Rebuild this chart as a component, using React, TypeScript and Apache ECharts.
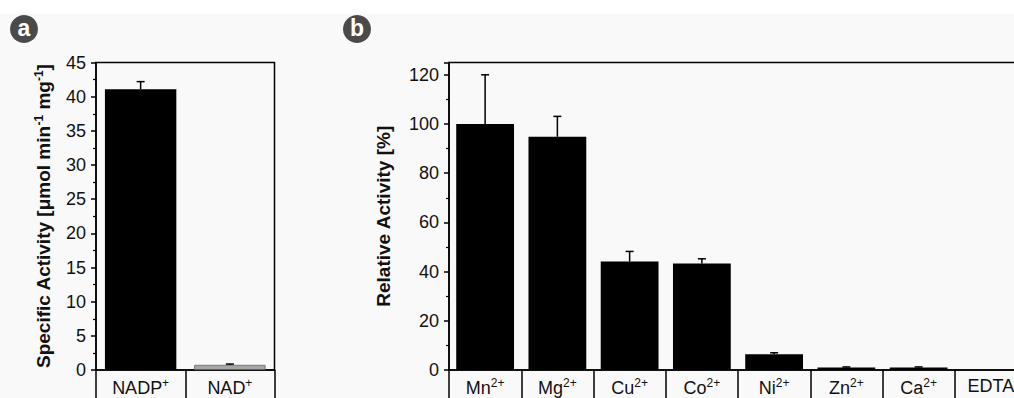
import React, { useEffect, useRef } from "react";
import * as echarts from "echarts";

const catsA = ["NADP{sup|+}", "NAD{sup|+}"];
const valsA = [41.1, 0.75];
const errA = [1.1, 0.12];
const colorsA = ["#000000", "#a6a6a6"];

const catsB = ["Mn{sup|2+}", "Mg{sup|2+}", "Cu{sup|2+}", "Co{sup|2+}", "Ni{sup|2+}", "Zn{sup|2+}", "Ca{sup|2+}", "EDTA"];
const valsB = [100, 94.8, 44.1, 43.3, 6.4, 1.0, 1.0, 0];
const errB = [20, 8.3, 4.1, 1.9, 0.6, 0.25, 0.25, 0];

const FONT = "'Liberation Sans', Arial, sans-serif";

const rich = {
  base: { fontSize: 18, fontFamily: FONT, color: "#111" },
  sup: { fontSize: 12, fontFamily: FONT, color: "#111", verticalAlign: "top", padding: [0, 0, 9, 0] },
};

function errRender(params: any, api: any) {
  const i = api.value(0);
  const v = api.value(1);
  const e = api.value(2);
  if (!e) return { type: "group", children: [] };
  const p0 = api.coord([i, v]);
  const p1 = api.coord([i, v + e]);
  const st = { stroke: "#000", lineWidth: 1.5 };
  return {
    type: "group",
    children: [
      { type: "line", shape: { x1: p0[0], y1: p0[1], x2: p1[0], y2: p1[1] }, style: st },
      { type: "line", shape: { x1: p1[0] - 4, y1: p1[1], x2: p1[0] + 4, y2: p1[1] }, style: st },
    ],
  };
}

export default function App() {
  const ref = useRef<HTMLDivElement>(null);
  useEffect(() => {
    const chart = echarts.init(ref.current!, undefined, { renderer: "svg" });
    const xAxisCommon = (gi: number, data: string[]) => ({
      type: "category",
      gridIndex: gi,
      data,
      axisLine: { lineStyle: { color: "#000", width: 1.5 } },
      axisTick: { show: true, inside: false, interval: 0, length: 30, lineStyle: { color: "#000", width: 1.5 } },
      axisLabel: {
        interval: 0,
        margin: 7,
        fontSize: 18,
        fontFamily: FONT,
        color: "#111",
        rich,
        formatter: (v: string) => `{base|${v.replace(/\{sup\|([^}]*)\}/g, "}{sup|$1}{base|")}}`.replace(/\{base\|\}/g, ""),
      },
      splitLine: { show: false },
    });
    const yAxisCommon = (gi: number, max: number, interval: number, name: string, nameGap: number) => ({
      type: "value",
      gridIndex: gi,
      min: 0,
      max,
      interval,
      name,
      nameLocation: "middle",
      nameGap,
      nameTextStyle: {
        fontSize: 19,
        fontWeight: "bold",
        fontFamily: FONT,
        color: "#111",
        rich: {
          t: { fontSize: 19, fontWeight: "bold", fontFamily: FONT, color: "#111" },
          s: { fontSize: 12, fontWeight: "bold", fontFamily: FONT, color: "#111", verticalAlign: "top", padding: [0, 0, 9, 0] },
        },
      },
      axisLine: { show: true, lineStyle: { color: "#000", width: 1.5 } },
      axisTick: { show: true, inside: false, length: 5, lineStyle: { color: "#000", width: 1.5 } },
      minorTick: { show: true, splitNumber: 2, length: 3, lineStyle: { color: "#000", width: 1.2 } },
      axisLabel: { margin: 10, fontSize: 18, fontFamily: FONT, color: "#111" },
      splitLine: { show: false },
    });
    chart.setOption({
      animation: false,
      backgroundColor: "transparent",
      graphic: [
        { type: "circle", shape: { cx: 24, cy: 29, r: 14 }, style: { fill: "#4a4a4a" } },
        { type: "text", x: 24, y: 28, style: { text: "a", fill: "#fff", font: `bold 23px ${FONT}`, align: "center", verticalAlign: "middle" } },
        { type: "circle", shape: { cx: 357, cy: 29, r: 14 }, style: { fill: "#4a4a4a" } },
        { type: "text", x: 357, y: 28, style: { text: "b", fill: "#fff", font: `bold 23px ${FONT}`, align: "center", verticalAlign: "middle" } },
      ],
      grid: [
        { left: 96, top: 62.5, width: 178.5, bottom: 28, show: true, borderColor: "#000", borderWidth: 1.5, backgroundColor: "transparent", containLabel: false },
        { left: 449, top: 62.5, width: 578, bottom: 28, show: true, borderColor: "#000", borderWidth: 1.5, backgroundColor: "transparent", containLabel: false },
      ],
      xAxis: [xAxisCommon(0, catsA), xAxisCommon(1, catsB)],
      yAxis: [
        yAxisCommon(0, 45, 5, "{t|Specific Activity [μmol min}{s|-1}{t| mg}{s|-1}{t|]}", 42.5),
        yAxisCommon(1, 125, 20, "{t|Relative Activity [%]}", 56.5),
      ],
      series: [
        {
          type: "bar",
          xAxisIndex: 0,
          yAxisIndex: 0,
          barWidth: "80%",
          data: valsA.map((v, i) => ({ value: v, itemStyle: { color: colorsA[i], borderColor: i ? "#666" : "#000", borderWidth: i ? 0.8 : 0 } })),
        },
        {
          type: "custom",
          xAxisIndex: 0,
          yAxisIndex: 0,
          renderItem: errRender,
          data: valsA.map((v, i) => [i, v, errA[i]]),
          z: 5,
        },
        {
          type: "bar",
          xAxisIndex: 1,
          yAxisIndex: 1,
          barWidth: "80%",
          itemStyle: { color: "#000" },
          data: valsB,
        },
        {
          type: "custom",
          xAxisIndex: 1,
          yAxisIndex: 1,
          renderItem: errRender,
          data: valsB.map((v, i) => [i, v, errB[i]]),
          z: 5,
        },
      ],
    });
    return () => chart.dispose();
  }, []);
  return (
    <div
      style={{
        position: "absolute",
        left: 0,
        top: 0,
        width: 1014,
        height: 398,
        overflow: "hidden",
        background: "linear-gradient(#ffffff 0px, #ffffff 14px, #f9f9f9 14px, #f9f9f9 100%)",
      }}
    >
      <div ref={ref} style={{ width: 1040, height: 398 }} />
    </div>
  );
}
